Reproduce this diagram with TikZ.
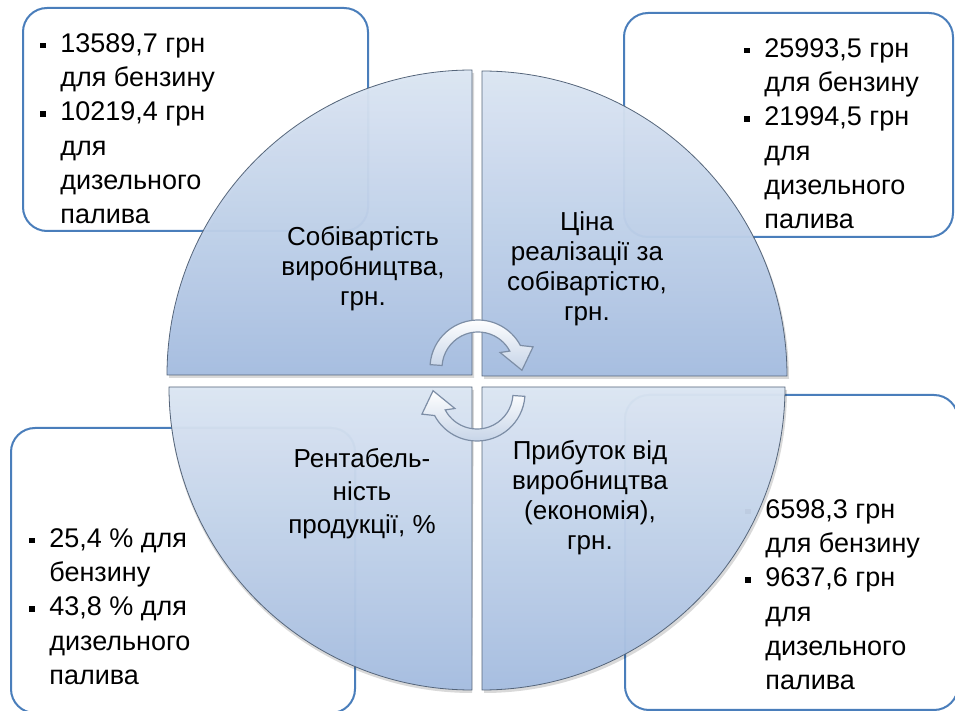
\documentclass[tikz,border=0pt]{standalone}
\usepackage{fontspec}
\setmainfont{Liberation Sans}
\definecolor{calloutblue}{HTML}{4A7EBB}
\definecolor{quadlight}{HTML}{DCE6F3}
\definecolor{quaddark}{HTML}{A5BDE0}
\definecolor{quadedge}{HTML}{55657A}
\definecolor{arrowedge}{HTML}{7D8EA6}
\definecolor{arrowshade}{HTML}{C5D3E7}
% list bullet and continuation indent
\newcommand\bul{\makebox[10pt][l]{\raisebox{0.3ex}{\rule{2.6pt}{2.6pt}}}}
\newcommand\cont{\hspace*{10pt}}
\begin{document}
\begin{tikzpicture}[x=0.5pt,y=0.5pt,
  callout/.style={draw=calloutblue,line width=1pt,fill=white,rounded corners=12pt,inner sep=0pt},
  quadrant/.style={top color=quadlight,bottom color=quaddark,draw=quadedge,line width=0.4pt,fill opacity=0.96},
  quadshadow/.style={fill=black,opacity=0.15},
  listtext/.style={anchor=north west,align=left,inner sep=0pt,font=\fontsize{13.5}{17.15}\selectfont},
  quadtext/.style={align=center,inner sep=0pt,font=\fontsize{13}{15}\selectfont},
  arrowbody/.style={top color=white,bottom color=arrowshade,draw=arrowedge,line width=0.6pt},
  cyclearrow/.pic={\path[arrowbody] (176:48) arc[start angle=176,end angle=28,radius=48]
      -- (21:59) -- (-3:44) -- (35:27) -- (28:36) arc[start angle=28,end angle=176,radius=36] -- cycle;}
]
\useasboundingbox (0,0) rectangle (955,-711);
\clip (0,0) rectangle (955,-711);

% value callouts
\node[callout,minimum width=172.5pt,minimum height=111.5pt] (tlbox) at (195.5,-119.5) {};
\node[callout,minimum width=164.5pt,minimum height=112pt] (trbox) at (788.5,-125) {};
\node[callout,minimum width=172pt,minimum height=142.5pt] (blbox) at (183,-570.5) {};
\node[callout,minimum width=166.5pt,minimum height=157.5pt] (brbox) at (791.5,-552.5) {};

\node[listtext] (tllist) at (40,-33) {\bul 13589,7 грн\\\cont для бензину\\\bul 10219,4 грн\\\cont для\\\cont дизельного\\\cont палива};
\node[listtext] (trlist) at (744,-38) {\bul 25993,5 грн\\\cont для бензину\\\bul 21994,5 грн\\\cont для\\\cont дизельного\\\cont палива};
\node[listtext] (bllist) at (29,-528) {\bul 25,4 \% для\\\cont бензину\\\bul 43,8 \% для\\\cont дизельного\\\cont палива};
\node[listtext] (brlist) at (745,-499) {\bul 6598,3 грн\\\cont для бензину\\\bul 9637,6 грн\\\cont для\\\cont дизельного\\\cont палива};

% quadrant shadows
\fill[quadshadow] (474,-378) -- (169,-378) arc[start angle=180,end angle=90,radius=305] -- cycle;
\fill[quadshadow] (484,-379) -- (484,-74) arc[start angle=90,end angle=0,radius=305] -- cycle;
\fill[quadshadow] (474,-390) -- (169,-390) arc[start angle=180,end angle=270,radius=303] -- cycle;
\fill[quadshadow] (484,-390) -- (484,-693) arc[start angle=270,end angle=360,radius=303] -- cycle;

% quadrants
\path[quadrant] (472,-375) -- (167,-375) arc[start angle=180,end angle=90,radius=305] -- cycle;
\path[quadrant] (482,-376) -- (482,-71) arc[start angle=90,end angle=0,radius=305] -- cycle;
\path[quadrant] (472,-387) -- (169,-387) arc[start angle=180,end angle=270,radius=303] -- cycle;
\path[quadrant] (482,-387) -- (482,-690) arc[start angle=270,end angle=360,radius=303] -- cycle;

\node[quadtext] (tltext) at (363,-269) {Собівартість\\виробництва,\\грн.};
\node[quadtext] (trtext) at (587,-269) {Ціна\\реалізації за\\собівартістю,\\грн.};
\node[quadtext,font=\fontsize{13}{16.5}\selectfont] (bltext) at (362,-494) {Рентабель-\\ність\\продукції, \%};
\node[quadtext] (brtext) at (590,-498) {Прибуток від\\виробництва\\(економія),\\грн.};

% cycle arrows
\pic at (478,-368) {cyclearrow};
\pic[rotate=180] at (477,-393) {cyclearrow};
\end{tikzpicture}
\end{document}
